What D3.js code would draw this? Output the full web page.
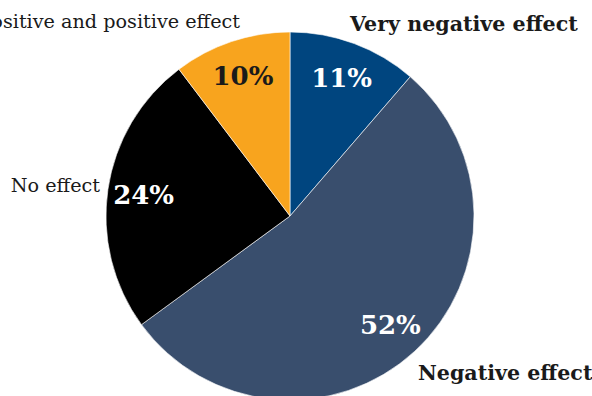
<!DOCTYPE html>
<html><head><meta charset="utf-8">
<script src="https://cdn.jsdelivr.net/npm/d3@7/dist/d3.min.js"></script>
<style>body{margin:0;background:#fff}svg{display:block}</style>
</head><body>
<script>
const categories = ["Very negative effect", "Negative effect", "No effect", "Somewhat positive and positive effect"];
const values = [11, 52, 24, 10];
const colors = ["#00457f", "#394e6d", "#000000", "#f8a41e"];
const pctColors = ["#ffffff", "#ffffff", "#ffffff", "#1a1a1a"];
const labelBold = [true, true, false, false];
// outer category label placement (anchor x, baseline y, text-anchor)
const labelPos = [[350, 31, "start"], [418, 380, "start"], [100, 192, "end"], [240, 28, "end"]];

const W = 592, H = 396, cx = 290, cy = 216, R = 184;
const svg = d3.select("body").append("svg").attr("width", W).attr("height", H);
const g = svg.append("g").attr("transform", `translate(${cx},${cy})`);
const pie = d3.pie().sort(null).value(d => d);
const arcs = pie(values);
const arc = d3.arc().innerRadius(0).outerRadius(R);
const labelArc = d3.arc().innerRadius(148).outerRadius(148);

g.selectAll("path").data(arcs).join("path")
  .attr("d", arc).attr("fill", (d, i) => colors[i])
  .attr("stroke", "#fff").attr("stroke-width", 0.6);

g.selectAll("text.pct").data(arcs).join("text").attr("class", "pct")
  .attr("transform", d => `translate(${labelArc.centroid(d)})`)
  .attr("text-anchor", "middle").attr("dy", "0.36em")
  .attr("font-family", "DejaVu Serif").attr("font-weight", "bold").attr("font-size", 26)
  .attr("fill", (d, i) => pctColors[i])
  .text(d => d.data + "%");

svg.selectAll("text.cat").data(categories).join("text").attr("class", "cat")
  .attr("x", (d, i) => labelPos[i][0]).attr("y", (d, i) => labelPos[i][1])
  .attr("text-anchor", (d, i) => labelPos[i][2])
  .attr("font-family", "DejaVu Serif")
  .attr("font-weight", (d, i) => labelBold[i] ? "bold" : "normal")
  .attr("font-size", (d, i) => labelBold[i] ? 20.6 : 19.2)
  .attr("fill", "#1a1a1a")
  .text(d => d);
</script>
</body></html>
